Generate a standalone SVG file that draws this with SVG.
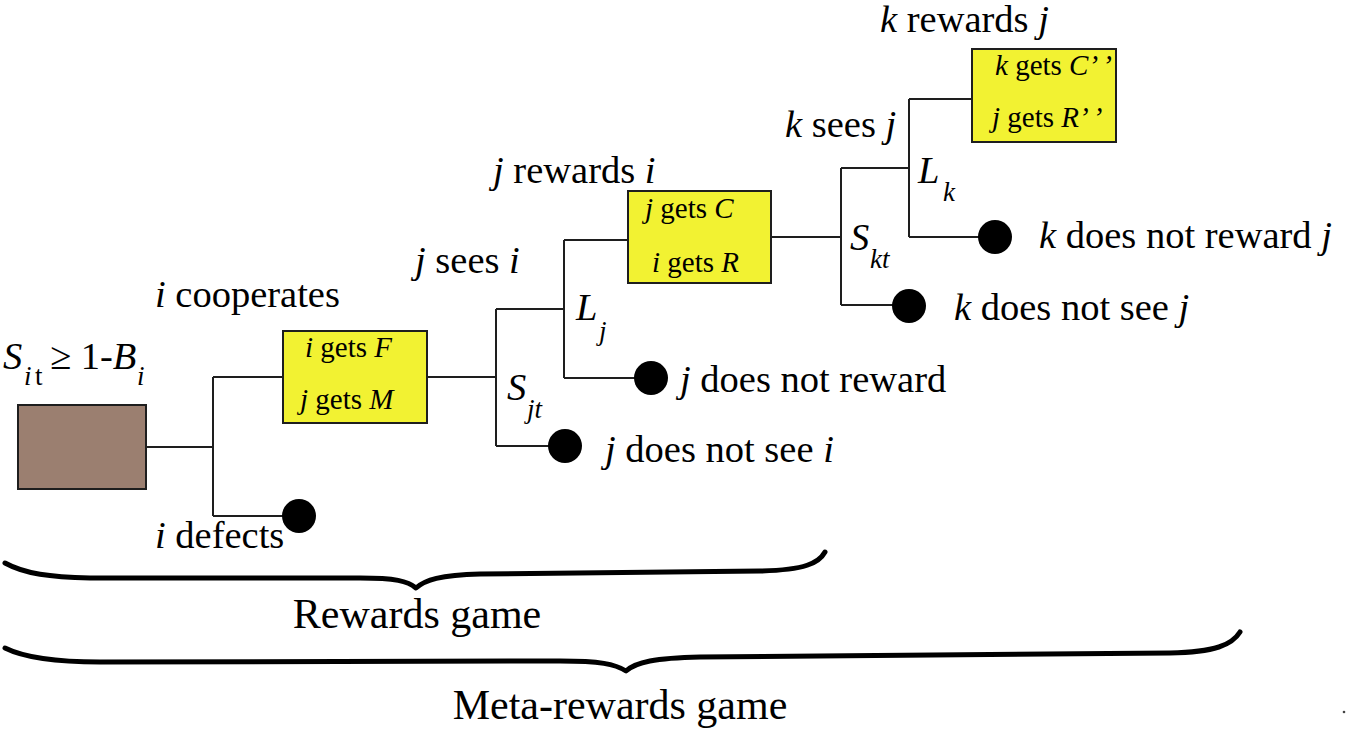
<svg xmlns="http://www.w3.org/2000/svg" width="1352" height="736" viewBox="0 0 1352 736">
<style>
text{font-family:"Liberation Serif","Times New Roman",serif;fill:#000}
.t{font-size:38.5px}
.b{font-size:29px}
.g{font-size:42px}
.i{font-style:italic}
.s{font-size:27px}
.ln{stroke:#1e1e1e;stroke-width:2;fill:none}
.box{fill:#f2f232;stroke:#1e1e1e;stroke-width:2}
.root{fill:#9b7f70;stroke:#1e1e1e;stroke-width:2}
.leaf{fill:#000}
.br{fill:none;stroke:#000;stroke-width:5;stroke-linecap:round;stroke-linejoin:round}
</style>
<rect width="1352" height="736" fill="#fff"/>
<g id="connectors">
<path class="ln" d="M146,447H213M213,377V516M213,377H283M213,516H299"/>
<path class="ln" d="M427,377H496M496,309V446M496,309H564M564,240V378M564,240H628M564,378H651M496,446H565"/>
<path class="ln" d="M771,237H841M841,168V305M841,168H909M909,99V237M909,99H972M909,237H995M841,305H909"/>
</g>
<g id="root">
<rect class="root" x="18" y="405" width="128" height="84"/>
<text class="t i" x="3" y="369">S</text>
<text class="s i" x="24" y="385">i</text>
<text class="s" x="35" y="385">t</text>
<text class="t" x="50" y="369">≥ 1-<tspan class="i">B</tspan></text>
<text class="s i" x="137" y="385">i</text>
</g>
<g id="cooperate">
<text class="t" x="155" y="307"><tspan class="i">i</tspan> cooperates</text>
<rect class="box" x="283" y="331" width="144" height="92"/>
<text class="b" x="305" y="357"><tspan class="i">i</tspan> gets <tspan class="i">F</tspan></text>
<text class="b" x="300" y="409"><tspan class="i">j</tspan> gets <tspan class="i">M</tspan></text>
</g>
<g id="defect">
<circle class="leaf" cx="299" cy="516" r="17"/>
<text class="t" x="155" y="548"><tspan class="i">i</tspan> defects</text>
</g>
<g id="j-decision">
<text class="t" x="415" y="273"><tspan class="i">j</tspan> sees <tspan class="i">i</tspan></text>
<text class="t i" x="507" y="400">S</text>
<text class="s i" x="527" y="418">jt</text>
<text class="t i" x="576" y="320">L</text>
<text class="s i" x="599" y="340">j</text>
</g>
<g id="j-rewards">
<text class="t" x="493" y="183"><tspan class="i">j</tspan> rewards <tspan class="i">i</tspan></text>
<rect class="box" x="628" y="191" width="143" height="92"/>
<text class="b" x="645" y="218"><tspan class="i">j</tspan> gets <tspan class="i">C</tspan></text>
<text class="b" x="652" y="272"><tspan class="i">i</tspan> gets <tspan class="i">R</tspan></text>
</g>
<g id="j-not-reward">
<circle class="leaf" cx="651" cy="378" r="17"/>
<text class="t" x="680" y="392"><tspan class="i">j</tspan> does not reward</text>
</g>
<g id="j-not-see">
<circle class="leaf" cx="565" cy="446" r="17"/>
<text class="t" x="605" y="462"><tspan class="i">j</tspan> does not see <tspan class="i">i</tspan></text>
</g>
<g id="k-decision">
<text class="t" x="785" y="137"><tspan class="i">k</tspan> sees <tspan class="i">j</tspan></text>
<text class="t i" x="850" y="250">S</text>
<text class="s i" x="870" y="268">kt</text>
<text class="t i" x="918" y="183">L</text>
<text class="s i" x="943" y="201">k</text>
</g>
<g id="k-rewards">
<text class="t" x="880" y="32"><tspan class="i">k</tspan> rewards <tspan class="i">j</tspan></text>
<rect class="box" x="972" y="49" width="144" height="93"/>
<text class="b" x="995" y="75"><tspan class="i">k</tspan> gets <tspan class="i">C’ ’</tspan></text>
<text class="b" x="992" y="127"><tspan class="i">j</tspan> gets <tspan class="i">R’ ’</tspan></text>
</g>
<g id="k-not-reward">
<circle class="leaf" cx="995" cy="237" r="17"/>
<text class="t" x="1039" y="248"><tspan class="i">k</tspan> does not reward <tspan class="i">j</tspan></text>
</g>
<g id="k-not-see">
<circle class="leaf" cx="909" cy="306" r="17"/>
<text class="t" x="954" y="320"><tspan class="i">k</tspan> does not see <tspan class="i">j</tspan></text>
</g>
<g id="rewards-game">
<path class="br" d="M5,563 C25,574 50,577 90,578 L360,578 C395,578 408,581 416,588 C425,580 440,575 480,574 L760,571 C805,570 819,563 825,552"/>
<text class="g" x="417" y="628" text-anchor="middle">Rewards game</text>
</g>
<g id="meta-rewards-game">
<path class="br" d="M5,648 C25,658 55,662 100,662 L560,661 C600,661 615,664 626,671 C636,662 655,658 700,657 L1170,653 C1215,652 1232,645 1240,632"/>
<text class="g" x="620" y="719" text-anchor="middle">Meta-rewards game</text>
</g>
<circle cx="1344" cy="712" r="1.3" fill="#444"/>
</svg>
